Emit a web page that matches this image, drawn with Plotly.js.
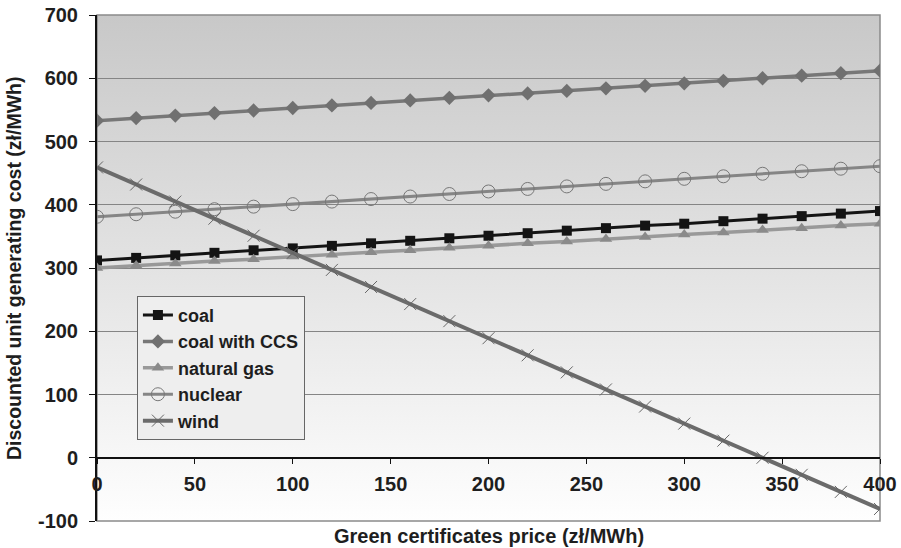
<!DOCTYPE html>
<html>
<head>
<meta charset="utf-8">
<script src="https://cdn.plot.ly/plotly-3.0.1.min.js"></script>
<style>html,body{margin:0;padding:0;background:#fff;}</style>
</head>
<body>
<div id="chart" style="width:901px;height:548px;"></div>
<script>
const price = [0,20,40,60,80,100,120,140,160,180,200,220,240,260,280,300,320,340,360,380,400];
const coal = [312,316,320,324,328,331,335,339,343,347,351,355,359,363,367,370,374,378,382,386,390];
const coalCCS = [533,537,541,545,549,553,557,561,565,569,573,576,580,584,588,592,596,600,604,608,612];
const naturalGas = [300,304,307,311,314,318,321,325,328,332,335,339,342,346,349,353,356,360,363,367,370];
const nuclear = [381,385,389,393,397,401,405,409,413,417,421,425,429,433,437,441,445,449,453,457,461];
const wind = [459,432,405,378,351,324,297,270,243,216,189,162,135,108,81,54,27,0,-27,-54,-81];
const seriesNames = ["coal","coal with CCS","natural gas","nuclear","wind"];
const yTickVals = [-100,0,100,200,300,400,500,600,700];
const yTickText = ["-100","0","100","200","300","400","500","600","700"];
const xTitle = "Green certificates price (zł/MWh)";
const yTitle = "Discounted unit generating cost (zł/MWh)";

const FONT = "Liberation Sans, Arial, sans-serif";
const TXT = "#1e1e1e";

const traces = [
  {x: price, y: coal, name: seriesNames[0], mode: "lines+markers",
   line: {color: "#141414", width: 3}, marker: {symbol: "square", size: 10, color: "#141414"}},
  {x: price, y: coalCCS, name: seriesNames[1], mode: "lines+markers",
   line: {color: "#777777", width: 3.5}, marker: {symbol: "diamond", size: 11, color: "#707070"}},
  {x: price, y: naturalGas, name: seriesNames[2], mode: "lines+markers",
   line: {color: "#999999", width: 3.5}, marker: {symbol: "triangle-up", size: 11, color: "#8a8a8a"}},
  {x: price, y: nuclear, name: seriesNames[3], mode: "lines+markers",
   line: {color: "#858585", width: 3}, marker: {symbol: "circle-open", size: 13, color: "#777777", line: {width: 1}}},
  {x: price, y: wind, name: seriesNames[4], mode: "lines+markers",
   line: {color: "#6b6b6b", width: 4}, marker: {symbol: "x-thin-open", size: 12, color: "#666666", line: {width: 1, color: "#666666"}}}
];

const svg = "<svg xmlns='http://www.w3.org/2000/svg' width='100' height='100' preserveAspectRatio='none'><defs><linearGradient id='g' x1='0' y1='0' x2='0' y2='1'><stop offset='0' stop-color='#c8c8c8'/><stop offset='1' stop-color='#fefefe'/></linearGradient></defs><rect width='100' height='100' fill='url(#g)'/></svg>";

const layout = {
  width: 901, height: 548,
  margin: {l: 97, r: 21, t: 15, b: 27},
  paper_bgcolor: "#ffffff",
  plot_bgcolor: "rgba(0,0,0,0)",
  font: {family: FONT, size: 20, color: TXT, weight: 700},
  showlegend: true,
  legend: {
    x: 0.051, y: 0.445, xanchor: "left", yanchor: "top",
    bgcolor: "#eeeeee", bordercolor: "#666666", borderwidth: 1,
    font: {family: FONT, size: 18, color: TXT, weight: 700},
    itemwidth: 30, tracegroupgap: 0
  },
  xaxis: {
    range: [0, 400], dtick: 50, tick0: 0,
    anchor: "free", position: 0.125,
    showline: true, linecolor: "#111111", linewidth: 2,
    ticks: "outside", ticklen: 5, tickcolor: "#111111", tickwidth: 1,
    ticklabelstandoff: 3,
    showgrid: false, zeroline: false,
    tickfont: {family: FONT, size: 20, color: TXT, weight: 700}
  },
  yaxis: {
    range: [-100, 700], tickmode: "array", tickvals: yTickVals, ticktext: yTickText,
    showline: true, linecolor: "#111111", linewidth: 2,
    ticks: "outside", ticklen: 6, tickcolor: "#111111", tickwidth: 1,
    ticklabelstandoff: 7,
    showgrid: true, gridcolor: "#858585", gridwidth: 1,
    zeroline: false,
    tickfont: {family: FONT, size: 20, color: TXT, weight: 700}
  },
  images: [{
    source: "data:image/svg+xml;base64," + btoa(svg),
    xref: "paper", yref: "paper", x: 0, y: 1, sizex: 1, sizey: 1,
    xanchor: "left", yanchor: "top", sizing: "stretch", layer: "below"
  }],
  shapes: [{
    type: "rect", xref: "paper", yref: "paper", x0: 0, x1: 1, y0: 0, y1: 1,
    line: {color: "#8a8a8a", width: 1.5}, layer: "below"
  }],
  annotations: [
    {text: xTitle, xref: "paper", yref: "paper", x: 0.5, y: 0, yanchor: "middle", yshift: -15,
     showarrow: false, font: {family: FONT, size: 20, color: TXT, weight: 700}},
    {text: yTitle, xref: "paper", yref: "paper", x: 0, y: 0.5, xanchor: "center", xshift: -83,
     textangle: -90, showarrow: false, font: {family: FONT, size: 19.5, color: TXT, weight: 700}}
  ]
};

Plotly.newPlot("chart", traces, layout, {displayModeBar: false, staticPlot: true});
</script>
</body>
</html>
